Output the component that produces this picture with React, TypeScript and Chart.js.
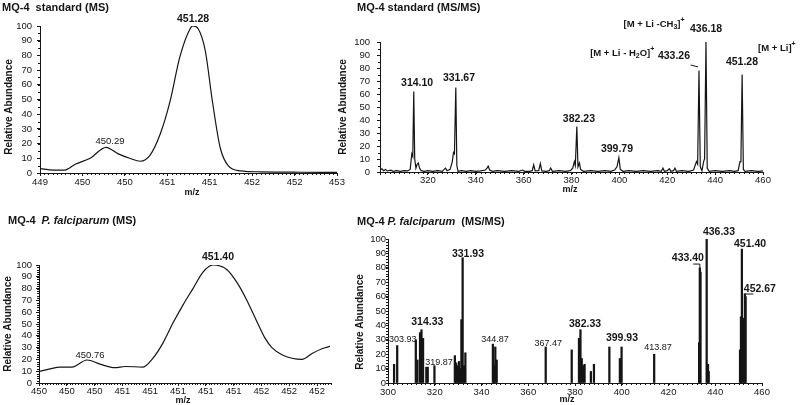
import React, { useEffect, useRef } from 'react';
import { Chart, registerables } from 'chart.js';

Chart.register(...registerables);

const FONT = '"Liberation Sans", Arial, Helvetica, sans-serif';
const INK = '#151515';

// ---------------- Panel A: MQ-4 standard (MS) ----------------
const msStdMz = [449.54, 449.69, 449.82, 449.94, 450.11, 450.29, 450.43, 450.56, 450.68, 450.79, 450.91, 451.02, 451.13, 451.25, 451.28, 451.34, 451.42, 451.5, 451.59, 451.68, 451.82, 452.05, 452.5, 452.92];
const msStdAbund = [3, 2, 2, 6, 10, 17.5, 13, 10, 8, 12, 27, 49, 79, 98.5, 100, 98, 83, 49, 17, 5, 1.5, 0.8, 0.5, 0.4];
const msStdTickLabels = ['449', '450', '450', '451', '451', '452', '452', '453'];
const msStdRange = [449.539, 452.918];
const msStdPeakText = ['451.28', '450.29'];
const msStdPeakMz = [451.28, 450.335];
const msStdPeakLevel = [104.8, 21.8];
const msStdPeakBold = [true, false];

// ---------------- Panel B: MQ-4 P. falciparum (MS) ----------------
const msPfMz = [450.516, 450.572, 450.623, 450.684, 450.76, 450.826, 450.902, 450.953, 451.044, 451.095, 451.146, 451.197, 451.247, 451.298, 451.349, 451.4, 451.471, 451.522, 451.572, 451.623, 451.664, 451.699, 451.75, 451.801, 451.852, 451.903, 451.953, 451.994];
const msPfAbund = [9.6, 12, 13.5, 13.5, 19.5, 16, 13, 14, 13.5, 21, 34, 51, 66, 80, 94, 100, 96, 85, 70, 52, 38, 30, 24, 21, 20, 25, 29, 31];
const msPfTickLabels = ['450', '450', '450', '451', '451', '451', '451', '451', '452', '452', '452'];
const msPfRange = [450.516, 451.994];
const msPfTickStep = 0.1412;
const msPfPeakText = ['451.40', '450.76'];
const msPfPeakMz = [451.425, 450.775];
const msPfPeakLevel = [106.8, 23.7];
const msPfPeakBold = [true, false];

// ---------------- Panel C: MQ-4 standard (MS/MS) ----------------
const msmsStdMz = [300, 300.8, 301.5, 302.3, 303, 304.5, 305.5, 307, 308.5, 310, 311.5, 312.6, 313.3, 313.7, 314.1, 314.5, 315, 315.5, 316, 316.5, 317.2, 318.5, 320, 322, 324, 326, 326.8, 327.4, 328, 329.3, 330.2, 330.7, 331.1, 331.67, 332.1, 332.6, 334, 336, 338, 340, 342, 344, 344.7, 345.2, 345.8, 347, 349, 352, 355, 358, 359.5, 360.5, 362.5, 363.6, 364.2, 364.8, 366.3, 367, 367.6, 369.5, 370.7, 371.3, 372, 375, 377.5, 379.5, 380.5, 381.2, 381.6, 382.23, 382.7, 383.3, 383.8, 385, 388, 391, 394, 396.5, 398, 399, 399.79, 400.4, 401.5, 404, 407, 410, 413, 416, 417.5, 418.2, 418.8, 420, 420.9, 421.5, 422.6, 423.2, 423.8, 426, 429, 431, 432.2, 432.7, 433.26, 433.8, 434.5, 435.2, 435.6, 436.18, 436.7, 437.5, 440, 443, 446, 448, 449.6, 450.4, 450.8, 451.28, 451.8, 452.5, 455, 458, 460];
const msmsStdAbund = [1.5, 2.5, 1, 2, 0.8, 1.5, 0.5, 1, 0.5, 1, 0.8, 2, 14, 12, 62, 10, 3, 6, 7, 3, 1, 0.5, 1, 0.5, 1, 0.5, 2, 3, 1, 2, 8, 15, 14, 65, 5, 0.5, 1, 0.5, 1, 0.5, 0.8, 1.5, 3, 4.5, 1.5, 0.5, 1, 0.5, 1, 0.5, 1.5, 0.5, 0.5, 1, 5.5, 0.8, 1, 6.5, 0.8, 0.5, 1, 3, 0.5, 1, 0.5, 1, 3, 8, 5, 35, 4, 7, 2, 0.5, 1, 0.5, 1, 0.5, 1.5, 4, 11, 2, 0.5, 1, 0.5, 1, 0.5, 1, 0.5, 3, 0.5, 1, 2.5, 0.5, 1, 3, 0.5, 1, 0.5, 1.5, 8, 6, 78, 4, 1, 8, 10, 100, 3, 0.5, 1, 0.5, 1, 0.5, 1, 8, 12, 75, 2, 0.5, 1, 0.5, 0.8];
const msmsStdPeakText = ['314.10', '331.67', '382.23', '399.79', '433.26', '436.18', '451.28'];
const msmsStdPeakMz = [315.5, 333.0, 383.1, 399.0, 422.8, 436.2, 451.2];
const msmsStdPeakLevel = [68.5, 72.3, 40.8, 17.7, 89.2, 110, 84.6];

// ---------------- Panel D: MQ-4 P. falciparum (MS/MS) ----------------
const msmsPfMz = [302.6, 303.93, 311.9, 312.6, 313.7, 314.33, 315.0, 316.4, 317.0, 319.87, 328.6, 329.2, 329.8, 330.4, 330.9, 331.4, 331.93, 332.5, 333.1, 344.87, 345.3, 345.9, 346.5, 367.47, 378.6, 381.7, 382.33, 382.9, 383.4, 384.1, 386.8, 388.1, 394.7, 399.2, 399.93, 413.87, 433.1, 433.4, 433.7, 436.33, 436.9, 437.2, 450.6, 451.0, 451.4, 451.9, 452.67, 453.0];
const msmsPfAbund = [13, 26, 30, 16, 35, 37, 31, 11, 11, 12, 19, 14, 12, 15, 10, 44, 87, 12, 21, 27, 12, 25, 16, 25, 23, 31, 37, 17, 12, 13, 8, 13, 25, 17, 25, 20, 28, 80, 77, 100, 13, 8, 23, 46, 93, 45, 62, 60];
const msmsPfPeakText = ['303.93', '314.33', '319.87', '331.93', '344.87', '367.47', '382.33', '399.93', '413.87', '433.40', '436.33', '451.40', '452.67'];
const msmsPfPeakMz = [306.3, 316.8, 321.8, 334.2, 345.8, 368.6, 384.3, 400.1, 415.5, 428.3, 441.6, 454.9, 459.1];
const msmsPfPeakLevel = [30.5, 42, 14.1, 89.6, 30.5, 27.6, 41, 31.3, 24.3, 86.8, 104.9, 96.5, 65.3];
const msmsPfPeakBold = [false, true, false, true, false, false, true, true, false, true, true, true, true];

type Seg = { t: string; size: number; bold?: boolean; italic?: boolean; dy?: number };

function fontOf(s: Seg) {
  return `${s.italic ? 'italic ' : ''}${s.bold ? 'bold ' : ''}${s.size}px ${FONT}`;
}

function drawRich(ctx: CanvasRenderingContext2D, segs: Seg[], x: number, y: number, align: 'left' | 'center') {
  let w = 0;
  segs.forEach((s) => {
    ctx.font = fontOf(s);
    w += ctx.measureText(s.t).width;
  });
  let cx = align === 'center' ? x - w / 2 : x;
  ctx.textAlign = 'left';
  ctx.textBaseline = 'middle';
  segs.forEach((s) => {
    ctx.font = fontOf(s);
    ctx.fillText(s.t, cx, y + (s.dy || 0));
    cx += ctx.measureText(s.t).width;
  });
}

type Label = { segs: Seg[]; mz: number; v: number };

type Spec = {
  box: [number, number, number, number];
  padTop: number;
  padRight: number;
  yWidth: number;
  xHeight: number;
  kind: 'line' | 'bar';
  mz: number[];
  ab: number[];
  smooth: boolean;
  xMin: number;
  xMax: number;
  xTickValues?: number[];
  xTickLabels?: string[];
  xStep?: number;
  hideFirstX?: boolean;
  xTickPad: number;
  yTickPad: number;
  yTickLen: number;
  minorX: number;
  minorY: number;
  title: Seg[];
  titleXY: [number, number];
  xTitleXY: [number, number];
  yTitleXY: [number, number];
  labels: Label[];
  leaders: [number, number][][];
};

function peakLabels(text: string[], mz: number[], lvl: number[], bold: boolean[], boldSize: number, normalSize: number): Label[] {
  return text.map((t, i) => ({
    segs: [{ t, size: bold[i] ? boldSize : normalSize, bold: bold[i] }],
    mz: mz[i],
    v: lvl[i],
  }));
}

const specs: Spec[] = [
  {
    box: [0, 0, 350, 200],
    padTop: 26,
    padRight: 13,
    yWidth: 40,
    xHeight: 27,
    kind: 'line',
    mz: msStdMz,
    ab: msStdAbund,
    smooth: true,
    xMin: msStdRange[0],
    xMax: msStdRange[1],
    xTickValues: msStdTickLabels.map((_, i) => msStdRange[0] + (i * (msStdRange[1] - msStdRange[0])) / (msStdTickLabels.length - 1)),
    xTickLabels: msStdTickLabels,
    xTickPad: 1,
    yTickPad: 5,
    yTickLen: 3,
    minorX: (msStdRange[1] - msStdRange[0]) / 70,
    minorY: 5,
    title: [{ t: 'MQ-4  standard (MS)', size: 11, bold: true }],
    titleXY: [2, 8],
    xTitleXY: [192, 193],
    yTitleXY: [9, 107],
    labels: peakLabels(msStdPeakText, msStdPeakMz, msStdPeakLevel, msStdPeakBold, 10.5, 9.5),
    leaders: [],
  },
  {
    box: [0, 200, 350, 205],
    padTop: 65,
    padRight: 20,
    yWidth: 39,
    xHeight: 22,
    kind: 'line',
    mz: msPfMz,
    ab: msPfAbund,
    smooth: true,
    xMin: msPfRange[0],
    xMax: msPfRange[1],
    xTickValues: msPfTickLabels.map((_, i) => msPfRange[0] + i * msPfTickStep),
    xTickLabels: msPfTickLabels,
    xTickPad: 0,
    yTickPad: 4,
    yTickLen: 3,
    minorX: msPfTickStep / 10,
    minorY: 2,
    title: [
      { t: 'MQ-4  ', size: 11, bold: true },
      { t: 'P. falciparum', size: 11, bold: true, italic: true },
      { t: ' (MS)', size: 11, bold: true },
    ],
    titleXY: [8, 21],
    xTitleXY: [183, 201],
    yTitleXY: [8, 124],
    labels: peakLabels(msPfPeakText, msPfPeakMz, msPfPeakLevel, msPfPeakBold, 10.5, 9.5),
    leaders: [],
  },
  {
    box: [330, 0, 470, 200],
    padTop: 42,
    padRight: 37,
    yWidth: 50,
    xHeight: 28,
    kind: 'line',
    mz: msmsStdMz,
    ab: msmsStdAbund,
    smooth: false,
    xMin: 300,
    xMax: 460,
    xStep: 20,
    hideFirstX: true,
    xTickPad: 0,
    yTickPad: 7,
    yTickLen: 3,
    minorX: 2,
    minorY: 5,
    title: [{ t: 'MQ-4 standard (MS/MS)', size: 11, bold: true }],
    titleXY: [27, 8],
    xTitleXY: [240, 190],
    yTitleXY: [13, 107],
    labels: [
      ...peakLabels(msmsStdPeakText, msmsStdPeakMz, msmsStdPeakLevel, msmsStdPeakText.map(() => true), 10.5, 9.5),
      {
        segs: [
          { t: '[M + Li - H', size: 9.5, bold: true },
          { t: '2', size: 7, bold: true, dy: 3 },
          { t: 'O]', size: 9.5, bold: true },
          { t: '+', size: 7, bold: true, dy: -4 },
        ],
        mz: 401.2,
        v: 91.5,
      },
      {
        segs: [
          { t: '[M + Li -CH', size: 9.5, bold: true },
          { t: '3', size: 7, bold: true, dy: 3 },
          { t: ']', size: 9.5, bold: true },
          { t: '+', size: 7, bold: true, dy: -4 },
        ],
        mz: 414.5,
        v: 113.8,
      },
      {
        segs: [
          { t: '[M + Li]', size: 9.5, bold: true },
          { t: '+', size: 7, bold: true, dy: -4 },
        ],
        mz: 465.8,
        v: 95.4,
      },
    ],
    leaders: [[[429.8, 82.3], [432.9, 80.8]]],
  },
  {
    box: [330, 200, 470, 205],
    padTop: 39,
    padRight: 38,
    yWidth: 58,
    xHeight: 22,
    kind: 'bar',
    mz: msmsPfMz,
    ab: msmsPfAbund,
    smooth: false,
    xMin: 300,
    xMax: 460,
    xStep: 20,
    xTickPad: 1,
    yTickPad: 0,
    yTickLen: 2,
    minorX: 2,
    minorY: 2,
    title: [
      { t: 'MQ-4 ', size: 11, bold: true },
      { t: 'P. falciparum', size: 11, bold: true, italic: true },
      { t: '  (MS/MS)', size: 11, bold: true },
    ],
    titleXY: [27, 22],
    xTitleXY: [237, 200],
    yTitleXY: [30, 122],
    labels: peakLabels(msmsPfPeakText, msmsPfPeakMz, msmsPfPeakLevel, msmsPfPeakBold, 10.5, 9),
    leaders: [
      [[430.6, 82.6], [433.4, 82.6], [433.4, 80]],
      [[452.67, 61.8], [456.3, 61.8]],
    ],
  },
];

function overlayPlugin(spec: Spec) {
  return {
    id: 'overlay',
    afterDraw(chart: any) {
      const ctx: CanvasRenderingContext2D = chart.ctx;
      const xs = chart.scales.x;
      const ys = chart.scales.y;
      const area = chart.chartArea;
      ctx.save();
      ctx.strokeStyle = INK;
      ctx.fillStyle = INK;
      ctx.lineWidth = 1;
      ctx.beginPath();
      const n = Math.round((spec.xMax - spec.xMin) / spec.minorX);
      for (let i = 0; i <= n; i++) {
        const px = Math.round(xs.getPixelForValue(spec.xMin + i * spec.minorX)) + 0.5;
        ctx.moveTo(px, area.bottom);
        ctx.lineTo(px, area.bottom + 2);
      }
      const m = Math.round(100 / spec.minorY);
      for (let i = 0; i <= m; i++) {
        const py = Math.round(ys.getPixelForValue(i * spec.minorY)) + 0.5;
        ctx.moveTo(area.left - 2, py);
        ctx.lineTo(area.left, py);
      }
      ctx.stroke();
      spec.leaders.forEach((pts) => {
        ctx.beginPath();
        pts.forEach(([mz, v], i) => {
          const px = xs.getPixelForValue(mz);
          const py = ys.getPixelForValue(v);
          if (i) ctx.lineTo(px, py);
          else ctx.moveTo(px, py);
        });
        ctx.stroke();
      });
      spec.labels.forEach((l) => drawRich(ctx, l.segs, xs.getPixelForValue(l.mz), ys.getPixelForValue(l.v), 'center'));
      drawRich(ctx, spec.title, spec.titleXY[0], spec.titleXY[1], 'left');
      drawRich(ctx, [{ t: 'm/z', size: 9, bold: true }], spec.xTitleXY[0], spec.xTitleXY[1], 'center');
      ctx.save();
      ctx.translate(spec.yTitleXY[0], spec.yTitleXY[1]);
      ctx.rotate(-Math.PI / 2);
      drawRich(ctx, [{ t: 'Relative Abundance', size: 10, bold: true }], 0, 0, 'center');
      ctx.restore();
      ctx.restore();
    },
  };
}

function buildChart(canvas: HTMLCanvasElement, spec: Spec) {
  const data = spec.mz.map((x, i) => ({ x, y: spec.ab[i] }));
  const dataset: any =
    spec.kind === 'bar'
      ? { type: 'bar', data, backgroundColor: INK, borderWidth: 0, barThickness: 1.6 }
      : {
          type: 'line',
          data,
          borderColor: INK,
          borderWidth: 1.2,
          pointRadius: 0,
          fill: false,
          tension: spec.smooth ? 0.4 : 0,
          cubicInterpolationMode: spec.smooth ? 'monotone' : 'default',
        };
  const tickFont = { family: FONT, size: 9.5 };
  const xTicks: any = {
    autoSkip: false,
    maxRotation: 0,
    minRotation: 0,
    padding: spec.xTickPad,
    color: INK,
    font: tickFont,
  };
  if (spec.xStep) xTicks.stepSize = spec.xStep;
  if (spec.xTickLabels) {
    const labels = spec.xTickLabels;
    xTicks.callback = (_v: any, idx: number) => labels[idx];
  } else if (spec.hideFirstX) {
    xTicks.callback = (v: any) => (v === spec.xMin ? '' : String(v));
  }
  const config: any = {
    type: spec.kind,
    data: { datasets: [dataset] },
    options: {
      animation: false,
      responsive: false,
      devicePixelRatio: 1,
      events: [],
      layout: { padding: { left: 0, top: spec.padTop, right: spec.padRight, bottom: 0 } },
      plugins: { legend: { display: false }, tooltip: { enabled: false }, title: { display: false } },
      scales: {
        x: {
          type: 'linear',
          min: spec.xMin,
          max: spec.xMax,
          offset: false,
          grid: { display: true, drawOnChartArea: false, drawTicks: true, tickLength: 3, color: INK, offset: false },
          border: { display: true, color: INK, width: 1 },
          ticks: xTicks,
          afterBuildTicks: spec.xTickValues
            ? (s: any) => {
                s.ticks = spec.xTickValues!.map((value) => ({ value }));
              }
            : undefined,
          afterFit: (s: any) => {
            s.height = spec.xHeight;
          },
        },
        y: {
          type: 'linear',
          min: 0,
          max: 100,
          grid: { display: true, drawOnChartArea: false, drawTicks: true, tickLength: spec.yTickLen, color: INK },
          border: { display: true, color: INK, width: 1 },
          ticks: { stepSize: 10, autoSkip: false, padding: spec.yTickPad, color: INK, font: tickFont },
          afterFit: (s: any) => {
            s.width = spec.yWidth;
          },
        },
      },
    },
    plugins: [overlayPlugin(spec)],
  };
  return new Chart(canvas, config);
}

function Panel({ spec }: { spec: Spec }) {
  const ref = useRef<HTMLCanvasElement | null>(null);
  useEffect(() => {
    const chart = buildChart(ref.current!, spec);
    return () => chart.destroy();
  }, [spec]);
  const [l, t, w, h] = spec.box;
  return (
    <canvas
      ref={ref}
      width={w}
      height={h}
      style={{ position: 'absolute', left: l, top: t, width: w, height: h }}
    />
  );
}

export default function App() {
  return (
    <div style={{ position: 'absolute', left: 0, top: 0, width: 800, height: 405, background: '#fff', overflow: 'hidden' }}>
      {specs.map((s, i) => (
        <Panel key={i} spec={s} />
      ))}
    </div>
  );
}
